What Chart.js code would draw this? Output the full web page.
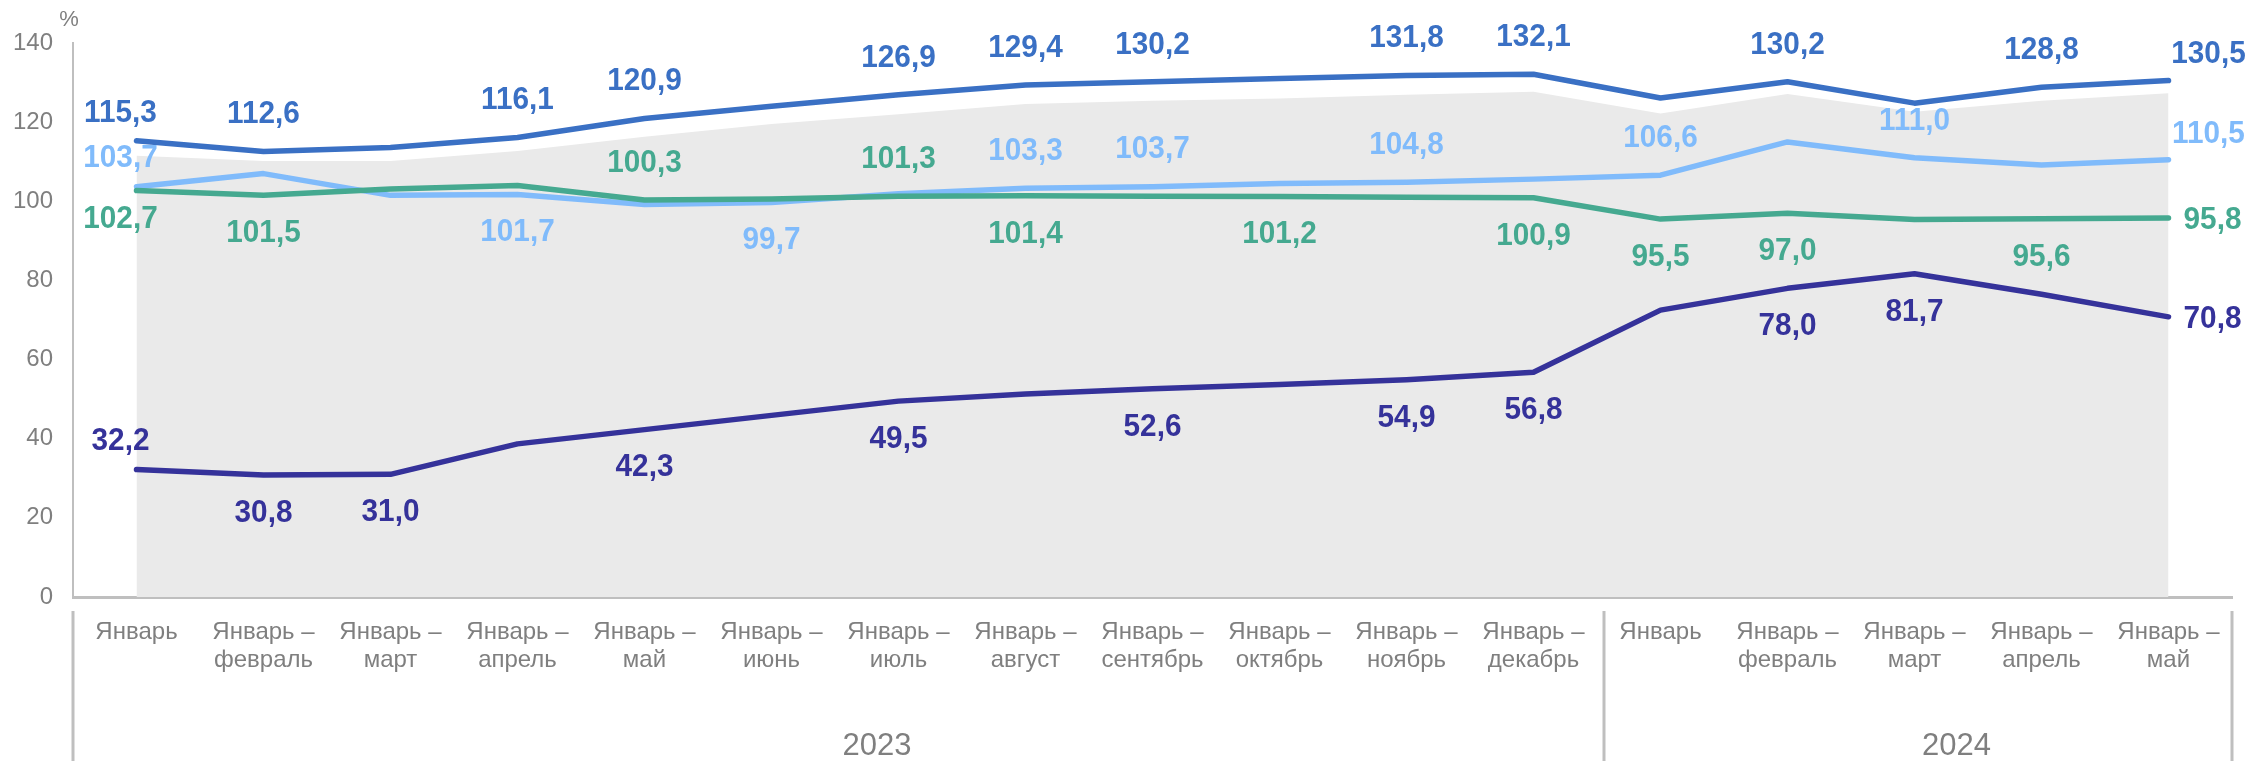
<!DOCTYPE html>
<html lang="ru">
<head>
<meta charset="utf-8">
<script src="https://cdn.jsdelivr.net/npm/chart.js@4.4.1/dist/chart.umd.min.js"></script>
<style>
  html, body { margin: 0; padding: 0; background: #fff; }
  canvas { display: block; }
</style>
</head>
<body>
<canvas id="growthChart" width="2257" height="761"></canvas>
<script>
// categories (two-line tick labels) and years
const categories = [
    'Январь', ['Январь –', 'февраль'], ['Январь –', 'март'], ['Январь –', 'апрель'],
    ['Январь –', 'май'], ['Январь –', 'июнь'], ['Январь –', 'июль'], ['Январь –', 'август'],
    ['Январь –', 'сентябрь'], ['Январь –', 'октябрь'], ['Январь –', 'ноябрь'], ['Январь –', 'декабрь'],
    'Январь', ['Январь –', 'февраль'], ['Январь –', 'март'], ['Январь –', 'апрель'], ['Январь –', 'май']
];
const years = ['2023', '2024'];
const yearStart = [0, 12];
const yTicks = [0, 20, 40, 60, 80, 100, 120, 140];

// series values, %
const seriesBlue = [115.3, 112.6, 113.6, 116.1, 120.9, 124.0, 126.9, 129.4, 130.2, 131.0, 131.8, 132.1, 126.1, 130.2, 124.8, 128.8, 130.5];
const seriesLightBlue = [103.7, 107.0, 101.5, 101.7, 99.2, 99.7, 101.9, 103.3, 103.7, 104.5, 104.8, 105.6, 106.6, 115.0, 111.0, 109.2, 110.5];
const seriesGreen = [102.7, 101.5, 103.1, 104.0, 100.3, 100.6, 101.3, 101.4, 101.3, 101.2, 101.0, 100.9, 95.5, 97.0, 95.4, 95.6, 95.8];
const seriesNavy = [32.2, 30.8, 31.0, 38.7, 42.3, 45.9, 49.5, 51.3, 52.6, 53.7, 54.9, 56.8, 72.5, 78.0, 81.7, 76.5, 70.8];
const seriesArea = [111.5, 110.2, 110.2, 112.7, 116.3, 119.5, 122.0, 124.6, 125.4, 126.0, 126.9, 127.7, 122.2, 127.1, 122.6, 125.4, 127.3];

// where each value label goes: a = above, b = below, r = right, al = above-left, bl = below-left, ar = above-right, '' = none
const labelsBlue = ['al', 'a', '', 'a', 'a', '', 'a', 'a', 'a', '', 'a', 'a', '', 'a', '', 'a', 'ar'];
const labelsLightBlue = ['al', '', '', 'b', '', 'b', '', 'a', 'a', '', 'a', '', 'a', '', 'a', '', 'ar'];
const labelsGreen = ['bl', 'b', '', '', 'a', '', 'a', 'b', '', 'b', '', 'b', 'b', 'b', '', 'b', 'r'];
const labelsNavy = ['al', 'b', 'b', '', 'b', '', 'b', '', 'b', '', 'b', 'b', '', 'b', 'b', '', 'r'];

const GREY_TEXT = '#7f7f7f';
const AXIS_GREY = '#bfbfbf';
const FONT = "'Liberation Sans', Arial, sans-serif";

const labelOffsets = {
    a: [0, -37], b: [0, 38], r: [44, 2], al: [-16, -28], bl: [-16, 29], ar: [40, -26]
};

// value labels next to the points
const valueLabels = {
    id: 'valueLabels',
    afterDatasetsDraw(chart) {
        const ctx = chart.ctx;
        const squeeze = 0.93;
        ctx.save();
        ctx.font = 'bold 32px ' + FONT;
        ctx.textAlign = 'center';
        ctx.textBaseline = 'middle';
        chart.data.datasets.forEach(function(ds, di) {
            if (!ds.labelPos) return;
            const meta = chart.getDatasetMeta(di);
            ctx.fillStyle = ds.borderColor;
            meta.data.forEach(function(pt, i) {
                const pos = ds.labelPos[i];
                if (!pos) return;
                const off = labelOffsets[pos];
                const txt = ds.data[i].toFixed(1).replace('.', ',');
                ctx.save();
                ctx.translate(pt.x + off[0], pt.y + off[1]);
                ctx.scale(squeeze, 1);
                ctx.fillText(txt, 0, 0);
                ctx.restore();
            });
        });
        ctx.restore();
    }
};

// year group labels, separators and the "%" unit
const axisExtras = {
    id: 'axisExtras',
    afterDraw(chart) {
        const ctx = chart.ctx;
        const x = chart.scales.x;
        const area = chart.chartArea;
        const step = x.getPixelForValue(1) - x.getPixelForValue(0);
        ctx.save();
        ctx.strokeStyle = AXIS_GREY;
        ctx.lineWidth = 3;
        const bounds = yearStart.map(function(s) { return x.getPixelForValue(s) - step / 2; });
        bounds.push(x.getPixelForValue(categories.length - 1) + step / 2);
        bounds.forEach(function(bx, k) {
            const sx = (k > 0 && k < bounds.length - 1) ? bx + 7 : bx;
            ctx.beginPath();
            ctx.moveTo(sx, area.bottom + 14);
            ctx.lineTo(sx, chart.height);
            ctx.stroke();
        });
        ctx.fillStyle = GREY_TEXT;
        ctx.font = '31px ' + FONT;
        ctx.textAlign = 'center';
        ctx.textBaseline = 'middle';
        years.forEach(function(y, k) {
            const cx = (bounds[k] + bounds[k + 1]) / 2 + 42;
            ctx.fillText(y, cx, 746);
        });
        ctx.font = '22px ' + FONT;
        ctx.fillText('%', area.left - 4, 20);
        ctx.restore();
    }
};

function lineSet(label, data, color, labelPos, order) {
    return {
        label: label,
        data: data,
        borderColor: color,
        backgroundColor: color,
        borderWidth: 5.5,
        borderCapStyle: 'round',
        borderJoinStyle: 'round',
        pointRadius: 0,
        tension: 0,
        fill: false,
        labelPos: labelPos,
        order: order
    };
}

new Chart(document.getElementById('growthChart'), {
    type: 'line',
    data: {
        labels: categories,
        datasets: [
            lineSet('blue', seriesBlue, '#3a70c4', labelsBlue, 1),
            lineSet('lightblue', seriesLightBlue, '#80bbfb', labelsLightBlue, 3),
            lineSet('green', seriesGreen, '#45a990', labelsGreen, 2),
            lineSet('navy', seriesNavy, '#35329a', labelsNavy, 1),
            {
                label: 'area',
                data: seriesArea,
                borderWidth: 0,
                borderColor: 'rgba(0,0,0,0)',
                backgroundColor: '#eaeaea',
                pointRadius: 0,
                tension: 0,
                fill: 'origin',
                order: 10
            }
        ]
    },
    options: {
        responsive: false,
        animation: false,
        layout: { padding: { top: 43, right: 25, left: 0, bottom: 0 } },
        plugins: {
            legend: { display: false },
            tooltip: { enabled: false }
        },
        scales: {
            x: {
                offset: true,
                grid: { display: false, drawTicks: false },
                border: { display: true, color: AXIS_GREY, width: 3 },
                ticks: {
                    color: GREY_TEXT,
                    font: { family: FONT, size: 24, lineHeight: 1.15 },
                    padding: 22,
                    maxRotation: 0,
                    autoSkip: false
                },
                afterFit: function(scale) { scale.height = 164; }
            },
            y: {
                min: 0,
                max: 140,
                afterBuildTicks: function(scale) {
                    scale.ticks = yTicks.map(function(v) { return { value: v }; });
                },
                grid: { display: false, drawTicks: false },
                border: { display: true, color: AXIS_GREY, width: 2 },
                ticks: {
                    color: GREY_TEXT,
                    font: { family: FONT, size: 24 },
                    padding: 20
                },
                afterFit: function(scale) { scale.width = 73; }
            }
        }
    },
    plugins: [valueLabels, axisExtras]
});
</script>
</body>
</html>
